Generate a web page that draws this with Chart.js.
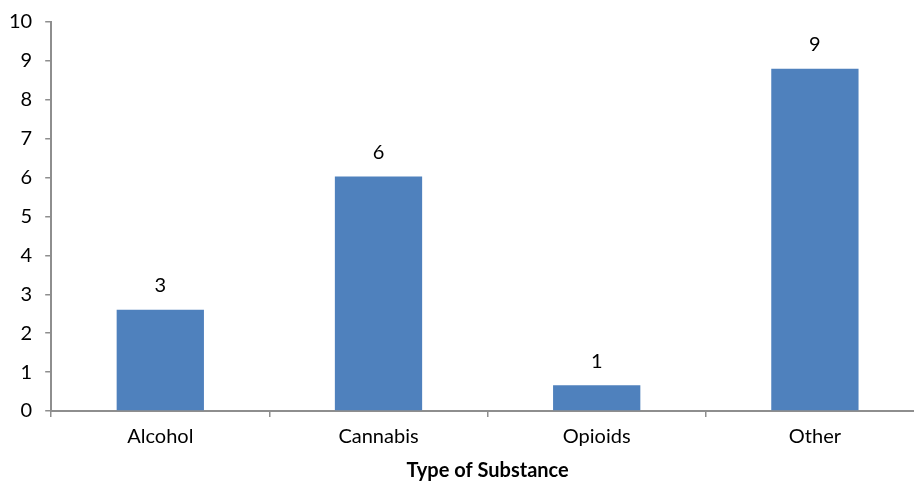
<!DOCTYPE html>
<html>
<head>
<meta charset="utf-8">
<script src="https://cdn.jsdelivr.net/npm/chart.js@4/dist/chart.umd.min.js"></script>
<style>
  html, body { margin: 0; padding: 0; background: #fff; overflow: hidden; }
  #wrap { width: 924px; height: 486px; margin-top: -3px; }
</style>
</head>
<body>
<div id="wrap"><canvas id="substanceChart"></canvas></div>
<script>
// data
var substances = ["Alcohol", "Cannabis", "Opioids", "Other"];
var counts = [2.6, 6.03, 0.66, 8.8];
var yTicks = [0, 1, 2, 3, 4, 5, 6, 7, 8, 9, 10];

var barColor = "#4F81BD";
var axisColor = "#8E8E8E";
var textColor = "#000000";
var fontFamily = "Lato, 'Open Sans', sans-serif";

// writes the rounded value over each bar
var valueLabels = {
  id: "valueLabels",
  afterDatasetsDraw: function (chart) {
    var ctx = chart.ctx;
    var meta = chart.getDatasetMeta(0);
    ctx.save();
    ctx.font = "20px " + fontFamily;
    ctx.fillStyle = textColor;
    ctx.textAlign = "center";
    ctx.textBaseline = "middle";
    meta.data.forEach(function (bar, i) {
      ctx.fillText(Math.round(counts[i]), bar.x, bar.y - 24);
    });
    ctx.restore();
  }
};

var config = {
  type: "bar",
  data: {
    labels: substances,
    datasets: [{
      data: counts,
      backgroundColor: barColor,
      barPercentage: 0.4,
      categoryPercentage: 1.0
    }]
  },
  options: {
    responsive: true,
    maintainAspectRatio: false,
    animation: false,
    layout: { padding: { top: 0, right: 0, left: -4, bottom: 0 } },
    plugins: {
      legend: { display: false },
      tooltip: { enabled: false }
    },
    scales: {
      x: {
        grid: { drawOnChartArea: false, drawTicks: true, tickLength: 6, color: axisColor, lineWidth: 1.5, offset: true },
        border: { color: axisColor, width: 2 },
        ticks: { color: textColor, font: { family: fontFamily, size: 20 }, padding: 8 },
        title: {
          display: true,
          text: "Type of Substance",
          color: textColor,
          font: { family: fontFamily, size: 20, weight: "bold" },
          padding: { top: 2, bottom: 0 }
        }
      },
      y: {
        min: 0,
        max: 10,
        afterBuildTicks: function (axis) {
          axis.ticks = yTicks.map(function (v) { return { value: v }; });
        },
        grid: { drawOnChartArea: false, drawTicks: true, tickLength: 6, color: axisColor, lineWidth: 1.5 },
        border: { color: axisColor, width: 2 },
        ticks: { color: textColor, font: { family: fontFamily, size: 20 }, padding: 13 }
      }
    }
  },
  plugins: [valueLabels]
};

var substanceChart = new Chart(document.getElementById("substanceChart"), config);
</script>
</body>
</html>
